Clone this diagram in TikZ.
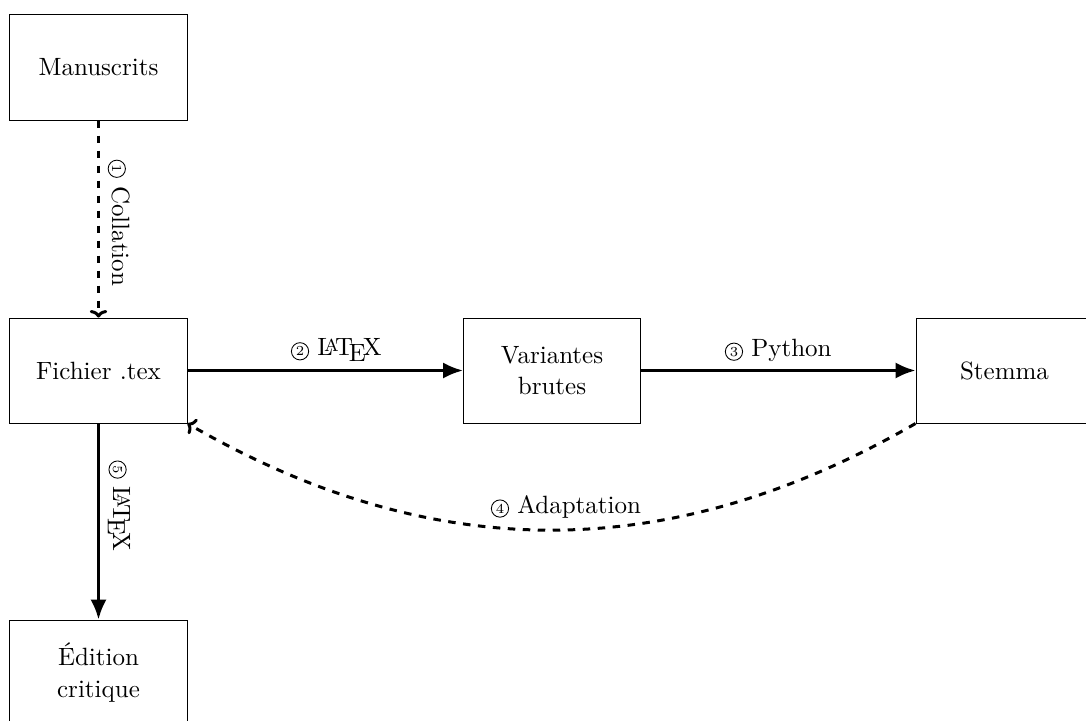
\documentclass[tikz,border=0pt]{standalone}
\usepackage{fontspec}
\usetikzlibrary{arrows.meta}
\newcommand{\circnum}[1]{\tikz[baseline=(c.base)]\node[circle, draw, solid, line width=0.35pt, inner sep=0.4pt, minimum size=6.9pt, font=\fontsize{5.5}{6}\selectfont] (c) {#1};}
\begin{document}
\begin{tikzpicture}[x=0.4pt,y=-0.4pt,
  box/.style={draw, line width=0.4pt, minimum width=70.8pt, minimum height=42pt,
    align=center, inner sep=0pt, font=\fontsize{10}{12.5}\selectfont},
  solidarr/.style={line width=1.2pt, -{Latex[length=8pt,width=6.5pt]}},
  dasharr/.style={line width=1.2pt, dashed, -{To[length=3pt,width=7pt]}},
  lbl/.style={font=\fontsize{10}{12}\selectfont, inner sep=3.5pt}]
\useasboundingbox (0,0) rectangle (1086,720);
\node[box] (man) at (98.5,67.5) {Manuscrits};
\node[box] (fic) at (98.5,370.5) {Fichier .tex};
\node[box] (var) at (552,370.5) {Variantes\\brutes};
\node[box] (ste) at (1004.5,370.5) {Stemma};
\node[box] (edi) at (98.5,672.5) {Édition\\critique};
\draw[dasharr] (man) -- node[lbl, sloped, above, pos=0.52] {\circnum{1} Collation} (fic);
\draw[solidarr] (fic) -- node[lbl, above, pos=0.54] {\circnum{2} \LaTeX} (var);
\draw[solidarr] (var) -- node[lbl, above] {\circnum{3} Python} (ste);
\draw[solidarr] (fic) -- node[lbl, sloped, above, pos=0.42] {\circnum{5} \LaTeX} (edi);
\draw[dasharr] (ste.south west) to[bend left=30] node[lbl, above, pos=0.48, inner sep=4.5pt] {\circnum{4} Adaptation} (fic.south east);
\end{tikzpicture}
\end{document}
